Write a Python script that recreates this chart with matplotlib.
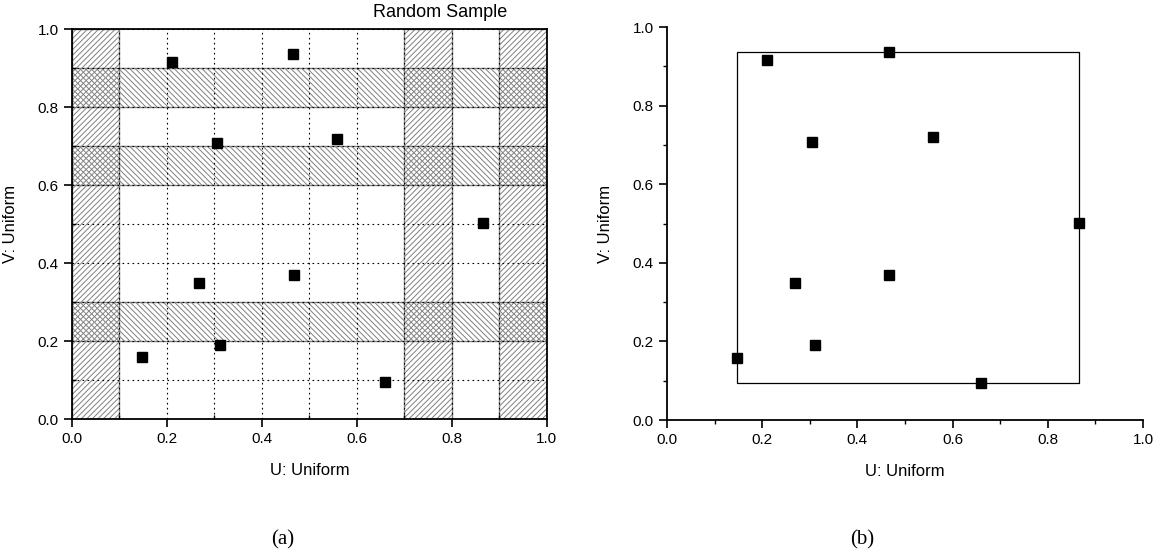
import matplotlib.pyplot as plt
from matplotlib.patches import Rectangle
from matplotlib.ticker import MultipleLocator

plt.rcParams['font.family'] = ['Liberation Sans', 'DejaVu Sans']
plt.rcParams['hatch.color'] = '#808080'
plt.rcParams['hatch.linewidth'] = 0.7

# sample points (U, V)
u = [0.147, 0.210, 0.268, 0.305, 0.311, 0.466, 0.467, 0.559, 0.659, 0.866]
v = [0.158, 0.915, 0.348, 0.708, 0.191, 0.937, 0.369, 0.719, 0.094, 0.502]

# excluded strips on each axis
u_strips = [(0.0, 0.1), (0.7, 0.8), (0.9, 1.0)]
v_strips = [(0.2, 0.3), (0.6, 0.7), (0.8, 0.9)]

fig = plt.figure(figsize=(11.57, 5.56), dpi=100)
ax1 = fig.add_axes([0.0622, 0.2464, 0.4105, 0.7014])
ax2 = fig.add_axes([0.5765, 0.2446, 0.4114, 0.7068])

# ---- (a) ----
for a, b in u_strips:
    ax1.add_patch(Rectangle((a, 0), b - a, 1, facecolor='none', edgecolor='#808080',
                            hatch='//////', lw=1.0, zorder=1))
for a, b in v_strips:
    ax1.add_patch(Rectangle((0, a), 1, b - a, facecolor='none', edgecolor='#808080',
                            hatch='\\\\\\\\\\\\', lw=1.0, zorder=1))
ax1.plot(u, v, 's', color='black', ms=6.5, zorder=3)
ax1.set_xlim(0, 1)
ax1.set_ylim(0, 1)
ax1.xaxis.set_major_locator(MultipleLocator(0.2))
ax1.yaxis.set_major_locator(MultipleLocator(0.2))
ax1.xaxis.set_minor_locator(MultipleLocator(0.1))
ax1.yaxis.set_minor_locator(MultipleLocator(0.1))
ax1.grid(True, which='both', color='black', ls=(0, (1.5, 3)), lw=0.8, zorder=2)
ax1.set_axisbelow(False)
ax1.tick_params(which='major', direction='out', length=6, width=1.2, labelsize=11)
ax1.tick_params(which='minor', direction='in', length=3, width=1.0)
for s in ax1.spines.values():
    s.set_linewidth(1.3)
ax1.set_xlabel('U: Uniform', fontsize=12, labelpad=12)
ax1.set_ylabel('V: Uniform', fontsize=12, labelpad=14)
ax1.text(0.775, 1.02, 'Random Sample', transform=ax1.transAxes, ha='center',
         va='bottom', fontsize=13)
fig.text(283 / 1157, 1 - 540 / 556, '(a)', ha='center', va='center',
         fontsize=15, family=['Liberation Serif', 'DejaVu Serif'])

# ---- (b) ----
umin, umax = min(u), max(u)
vmin, vmax = min(v), max(v)
ax2.add_patch(Rectangle((umin, vmin), umax - umin, vmax - vmin, facecolor='none',
                        edgecolor='black', lw=0.9, zorder=1))
ax2.plot(u, v, 's', color='black', ms=6.5, zorder=3)
ax2.set_xlim(0, 1)
ax2.set_ylim(0, 1)
ax2.xaxis.set_major_locator(MultipleLocator(0.2))
ax2.yaxis.set_major_locator(MultipleLocator(0.2))
ax2.xaxis.set_minor_locator(MultipleLocator(0.1))
ax2.yaxis.set_minor_locator(MultipleLocator(0.1))
ax2.spines['top'].set_visible(False)
ax2.spines['right'].set_visible(False)
ax2.spines['left'].set_linewidth(1.3)
ax2.spines['bottom'].set_linewidth(1.3)
ax2.tick_params(which='major', direction='out', length=6, width=1.2, labelsize=11)
ax2.tick_params(which='minor', direction='out', length=3, width=1.0)
ax2.set_xlabel('U: Uniform', fontsize=12, labelpad=12)
ax2.set_ylabel('V: Uniform', fontsize=12, labelpad=14)
fig.text(862 / 1157, 1 - 540 / 556, '(b)', ha='center', va='center',
         fontsize=15, family=['Liberation Serif', 'DejaVu Serif'])

fig.savefig('out.png', dpi=100)
